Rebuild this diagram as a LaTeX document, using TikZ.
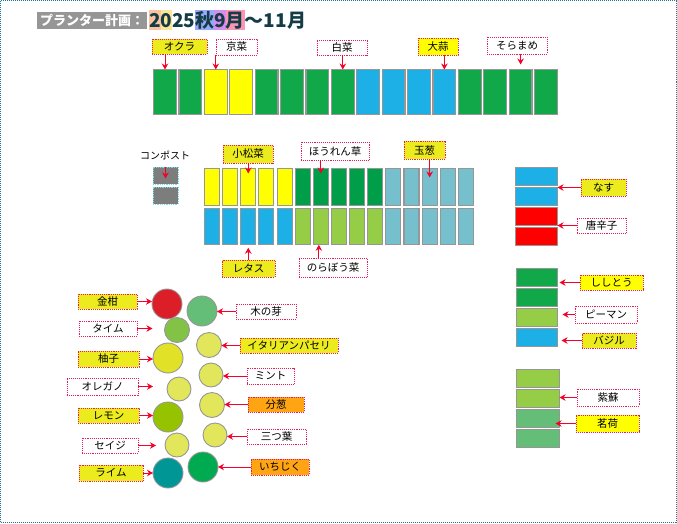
\documentclass[tikz,border=0pt]{standalone}
\usepackage{fontspec}
\newfontfamily\jp{Noto Sans CJK JP}
\usetikzlibrary{arrows.meta}
\definecolor{bgreen}{RGB}{16,168,72}
\definecolor{bblue}{RGB}{28,176,230}
\definecolor{byellow}{RGB}{255,255,0}
\definecolor{bteal}{RGB}{118,192,206}
\definecolor{bdkgreen}{RGB}{0,158,72}
\definecolor{blgreen}{RGB}{150,205,70}
\definecolor{bpastel}{RGB}{100,190,120}
\definecolor{bred}{RGB}{255,0,0}
\definecolor{compgray}{RGB}{125,125,125}
\definecolor{compedge}{RGB}{120,220,230}
\definecolor{bedgray}{RGB}{150,150,150}
\definecolor{labred}{RGB}{230,30,85}
\definecolor{arrred}{RGB}{245,0,40}
\definecolor{labyellow}{RGB}{235,235,30}
\definecolor{laborange}{RGB}{255,165,20}
\definecolor{framec}{RGB}{30,120,140}
\definecolor{titlegray}{RGB}{150,150,150}
\definecolor{titleteal}{RGB}{20,60,70}
\definecolor{ypeach}{RGB}{250,195,160}
\definecolor{yyellow}{RGB}{250,230,150}
\definecolor{yblue}{RGB}{150,170,250}
\definecolor{ypurple}{RGB}{215,140,240}
\definecolor{ypink}{RGB}{250,150,180}
\definecolor{cred}{RGB}{220,30,40}
\definecolor{cpastel}{RGB}{100,190,120}
\definecolor{cthyme}{RGB}{130,195,70}
\definecolor{cyel}{RGB}{225,230,90}
\definecolor{cyuzu}{RGB}{225,225,40}
\definecolor{clemon}{RGB}{150,195,0}
\definecolor{clime}{RGB}{0,150,150}
\definecolor{cfig}{RGB}{0,170,80}
\tikzset{
  bed/.style={draw=bedgray, line width=1.1pt, inner sep=0pt, outer sep=0pt},
  lab/.style={draw=labred, densely dotted, line width=0.9pt, inner sep=0pt, outer sep=0pt,
    text=black, font=\jp\fontsize{10.5}{12}\selectfont},
  ylab/.style={lab, fill=labyellow},
  pylab/.style={lab, fill=byellow},
  olab/.style={lab, fill=laborange},
  wlab/.style={lab, fill=white},
  arr/.style={draw=arrred, line width=1pt, -{Stealth[length=6pt,width=6.5pt]}},
  plant/.style={circle, draw=bedgray, line width=0.9pt, inner sep=0pt, outer sep=0pt},
  yr/.style={inner sep=0pt, outer sep=0pt, text height=17pt, text depth=3pt,
    font=\jp\bfseries\fontsize{19}{19}\selectfont, text=titleteal}
}
\begin{document}
\begin{tikzpicture}[x=1pt,y=-1pt]
\useasboundingbox (0,0) rectangle (677,523);
\draw[framec, densely dotted, line width=1pt] (0.5,0.5) rectangle (676.5,522.5);

% title
\node[fill=titlegray, minimum width=110pt, minimum height=17pt, inner sep=0pt, text=white,
  font=\jp\bfseries\fontsize{13}{13}\selectfont] (ttl) at (92,20.5) {プランター計画：};
\node[yr, fill=ypeach, anchor=west] (y1) at (149,20) {2};
\node[yr, fill=yyellow, anchor=west] (y2) at (y1.east) {0};
\node[yr, anchor=west] (y3) at (y2.east) {25};
\node[yr, fill=yblue, anchor=west] (y4) at (y3.east) {秋};
\node[yr, fill=ypurple, anchor=west] (y5) at (y4.east) {9};
\node[yr, fill=ypink, anchor=west] (y6) at (y5.east) {月};
\node[yr, anchor=west] (y7) at (y6.east) {～11月};

% top row beds
\foreach \i/\c in {1/bgreen,2/bgreen,3/byellow,4/byellow,5/bgreen,6/bgreen,7/bgreen,8/bgreen,
  9/bblue,10/bblue,11/bblue,12/bblue,13/bgreen,14/bgreen,15/bgreen,16/bgreen}
  \node[bed, fill=\c, minimum width=22.8pt, minimum height=45pt] (t\i) at ({165+25.4*(\i-1)},92) {};

\node[ylab, minimum width=55pt, minimum height=15pt] (okra) at (179.5,46.5) {オクラ};
\node[wlab, minimum width=41pt, minimum height=16pt] (kyona) at (236.5,47) {京菜};
\node[wlab, minimum width=50pt, minimum height=15pt] (hakusai) at (342,47.5) {白菜};
\node[pylab, minimum width=40pt, minimum height=17pt] (ninniku) at (438,46.5) {大蒜};
\node[wlab, minimum width=60pt, minimum height=17pt] (soramame) at (517,45.5) {そらまめ};

\draw[arr] (t1.north |- okra.south) -- (t1.north);
\draw[arr] (t3.north |- kyona.south) -- (t3.north);
\draw[arr] (t8.north |- hakusai.south) -- (t8.north);
\draw[arr] (t12.north |- ninniku.south) -- (t12.north);
\coordinate (smend) at ([yshift=5pt]t15.north);
\draw[arr] (smend |- soramame.south) -- (smend);

% compost
\node[font=\jp\fontsize{10}{12}\selectfont, inner sep=0pt] (compost) at (165,155) {コンポスト};
\node[draw=compedge, densely dotted, line width=0.8pt, fill=compgray, minimum width=25pt, minimum height=17pt, inner sep=0pt] (c1) at (165.5,175.5) {};
\node[draw=compedge, densely dotted, line width=0.8pt, fill=compgray, minimum width=25pt, minimum height=17pt, inner sep=0pt] (c2) at (165.5,195.5) {};
\coordinate (cend) at ([yshift=-3pt]c1.center);
\draw[arr] (c1.north) -- (cend);

% middle beds
\foreach \j/\a/\b in {0/byellow/bblue,1/byellow/bblue,2/byellow/bblue,3/byellow/bblue,4/byellow/bblue,
  5/bdkgreen/blgreen,6/bdkgreen/blgreen,7/bdkgreen/blgreen,8/bdkgreen/blgreen,9/bdkgreen/blgreen,
  10/bteal/bteal,11/bteal/bteal,12/bteal/bteal,13/bteal/bteal,14/bteal/bteal}{
  \node[bed, fill=\a, minimum width=15pt, minimum height=37pt] (u\j) at ({212+18.14*\j},187) {};
  \node[bed, fill=\b, minimum width=15pt, minimum height=36.5pt] (d\j) at ({212+18.14*\j},226.5) {};
}
\node[ylab, minimum width=50pt, minimum height=18pt] (komatsuna) at (248,154) {小松菜};
\node[wlab, minimum width=68pt, minimum height=18pt] (horenso) at (335,151) {ほうれん草};
\node[ylab, minimum width=41pt, minimum height=18pt] (tamanegi) at (424.5,150) {玉葱};
\node[ylab, minimum width=53pt, minimum height=17pt] (retasu) at (248.5,268.5) {レタス};
\node[wlab, minimum width=68pt, minimum height=19pt] (norabo) at (333,267.5) {のらぼう菜};

\coordinate (kmend) at ([yshift=-5pt]u2.north);
\draw[arr] (kmend |- komatsuna.south) -- (kmend);
\coordinate (hrend) at ([yshift=-5pt]u6.north);
\draw[arr] (hrend |- horenso.south) -- (hrend);
\coordinate (tmend) at ([yshift=-9pt]u12.north);
\draw[arr] (tmend |- tamanegi.south) -- (tmend);
\coordinate (rtend) at ([yshift=-3pt]d2.south);
\draw[arr] (rtend |- retasu.north) -- (rtend);
\coordinate (nrend) at ([xshift=-2pt]d6.south);
\draw[arr] (nrend |- norabo.north) -- (nrend);

% right column group 1
\foreach \k/\c/\y in {1/bblue/176.5,2/bblue/196.5,3/bred/216.5,4/bred/236.5}
  \node[bed, fill=\c, minimum width=42pt, minimum height=17.8pt] (n\k) at (536.5,\y) {};
\node[ylab, minimum width=45pt, minimum height=17pt] (nasu) at (603.5,187.5) {なす};
\node[wlab, minimum width=49pt, minimum height=15pt] (togarashi) at (601.5,225.5) {唐辛子};
\draw[arr] (nasu.west) -- (nasu.west -| n1.south east);
\draw[arr] (togarashi.west) -- (togarashi.west -| n3.south east);

% right column group 2
\foreach \k/\c/\y in {1/bgreen/277.5,2/bgreen/297.5,3/blgreen/317.5,4/bblue/337.5}
  \node[bed, fill=\c, minimum width=41pt, minimum height=17.8pt] (s\k) at (537,\y) {};
\node[pylab, minimum width=63pt, minimum height=15pt] (shishito) at (611.5,282.5) {ししとう};
\node[wlab, minimum width=62pt, minimum height=17pt] (piman) at (606,314.5) {ピーマン};
\node[ylab, minimum width=54pt, minimum height=15pt] (bajiru) at (609,340.5) {バジル};
\coordinate (shend) at ([xshift=2pt]s1.east);
\draw[arr] (shishito.west) -- (shishito.west -| shend);
\coordinate (pmend) at ([xshift=5pt]s3.east);
\draw[arr] (piman.west) -- (piman.west -| pmend);
\coordinate (bjend) at ([xshift=4pt]s4.east);
\draw[arr] (bajiru.west) -- (bajiru.west -| bjend);

% right column group 3
\foreach \k/\c/\y in {1/blgreen/378.5,2/blgreen/398.5,3/bpastel/418.5,4/bpastel/438.5}
  \node[bed, fill=\c, minimum width=43pt, minimum height=17.8pt] (h\k) at (538,\y) {};
\node[wlab, minimum width=62pt, minimum height=17pt] (shiso) at (608,397.5) {紫蘇};
\node[pylab, minimum width=63pt, minimum height=17pt] (myoga) at (607.5,423.5) {茗荷};
\draw[arr] (shiso.west) -- (shiso.west -| h2.east);
\coordinate (myend) at ([xshift=-4pt]h3.east);
\draw[arr] (myoga.west) -- (myoga.west -| myend);

% circles
\node[plant, fill=cred, minimum size=30pt] (k1) at (167,304) {};
\node[plant, fill=cpastel, minimum size=30pt] (k2) at (202,311) {};
\node[plant, fill=cthyme, minimum size=25pt] (k3) at (177,330) {};
\node[plant, fill=cyel, minimum size=25pt] (k4) at (209,345) {};
\node[plant, fill=cyuzu, minimum size=30pt] (k5) at (168,358) {};
\node[plant, fill=cyel, minimum size=24pt] (k6) at (211,375) {};
\node[plant, fill=cyel, minimum size=24pt] (k7) at (179,389) {};
\node[plant, fill=cyel, minimum size=25pt] (k8) at (212,405) {};
\node[plant, fill=clemon, minimum size=30pt] (k9) at (168,417) {};
\node[plant, fill=cyel, minimum size=24pt] (k10) at (215,435) {};
\node[plant, fill=cyel, minimum size=24pt] (k11) at (177,445) {};
\node[plant, fill=clime, minimum size=30pt] (k12) at (168,473) {};
\node[plant, fill=cfig, minimum size=30pt] (k13) at (203,467) {};

\node[ylab, minimum width=59pt, minimum height=15pt] (kinkan) at (107.5,301.5) {金柑};
\node[wlab, minimum width=58pt, minimum height=15pt] (taimu) at (108,328.5) {タイム};
\node[ylab, minimum width=61pt, minimum height=16pt] (yuzu) at (108.5,359) {柚子};
\node[wlab, minimum width=71pt, minimum height=17pt] (oregano) at (102.5,386.5) {オレガノ};
\node[ylab, minimum width=61pt, minimum height=15pt] (remon) at (108.5,415.5) {レモン};
\node[wlab, minimum width=56pt, minimum height=15pt] (seiji) at (110,445.5) {セイジ};
\node[ylab, minimum width=64pt, minimum height=16pt] (raimu) at (111,473) {ライム};

\node[wlab, minimum width=60pt, minimum height=15pt] (kinome) at (266,311.5) {木の芽};
\node[ylab, minimum width=98pt, minimum height=15pt] (itapase) at (289,345.5) {イタリアンパセリ};
\node[wlab, minimum width=47pt, minimum height=16pt] (minto) at (270.5,376) {ミント};
\node[olab, minimum width=56pt, minimum height=15pt] (wakegi) at (276,404.5) {分葱};
\node[wlab, minimum width=59pt, minimum height=15pt] (mitsuba) at (276.5,436.5) {三つ葉};
\node[olab, minimum width=58pt, minimum height=16pt] (ichijiku) at (280,467) {いちじく};

\draw[arr] (kinkan.east) -- (kinkan.east -| k1.west);
\coordinate (tmend2) at ([xshift=-12pt]k3.west);
\draw[arr] (taimu.east) -- (taimu.east -| tmend2);
\draw[arr] (yuzu.east) -- (yuzu.east -| k5.west);
\coordinate (orend) at ([xshift=-14pt]k7.west);
\draw[arr] (oregano.east) -- (oregano.east -| orend);
\draw[arr] (remon.east) -- (remon.east -| k9.west);
\coordinate (sjend) at ([xshift=-9pt]k11.west);
\draw[arr] (seiji.east) -- (seiji.east -| sjend);
\draw[arr] (raimu.east) -- (raimu.east -| k12.west);

\draw[arr] (kinome.west) -- (kinome.west -| k2.east);
\draw[arr] (itapase.west) -- (itapase.west -| k4.east);
\draw[arr] (minto.west) -- (minto.west -| k6.east);
\draw[arr] (wakegi.west) -- (wakegi.west -| k8.east);
\draw[arr] (mitsuba.west) -- (mitsuba.west -| k10.east);
\draw[arr] (ichijiku.west) -- (ichijiku.west -| k13.east);
\end{tikzpicture}
\end{document}
